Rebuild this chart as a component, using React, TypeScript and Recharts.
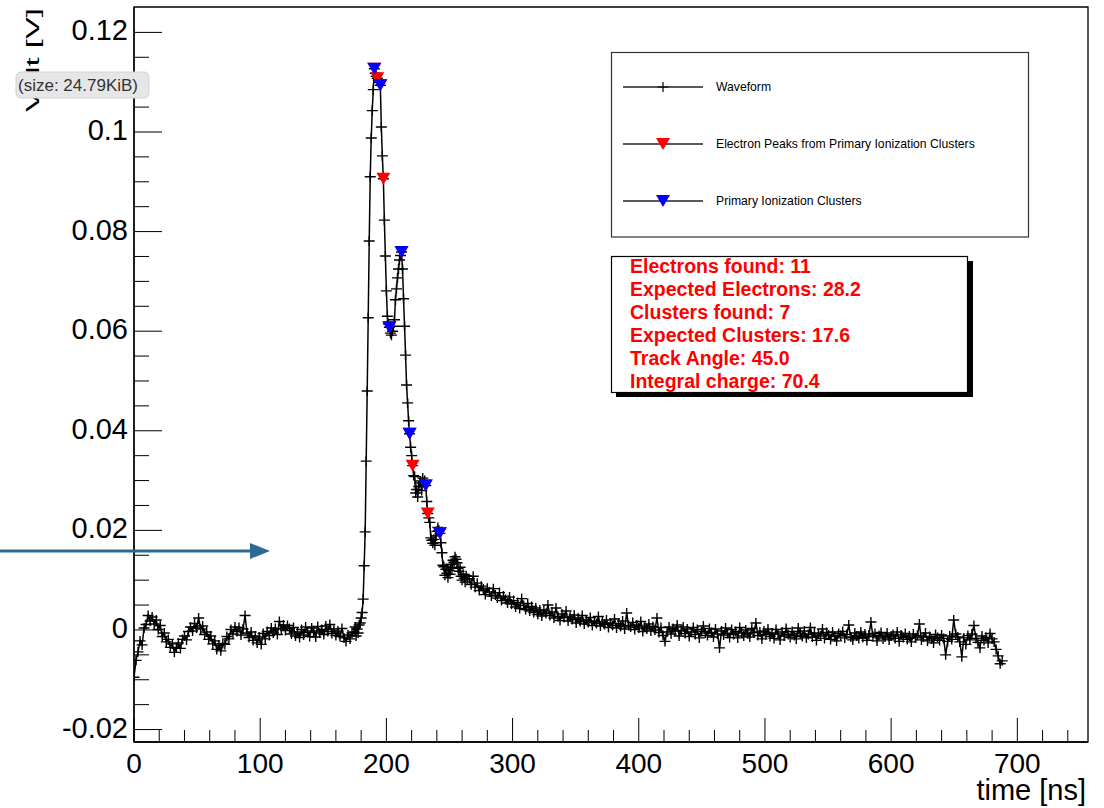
import React from "react";
import { ComposedChart, Line, Scatter, XAxis, YAxis, ReferenceArea } from "recharts";

const W = 1104;
const H = 808;
const FONT = "'Liberation Sans', Arial, Helvetica, sans-serif";

// axis ranges and ticks
const xRange = [0, 756];
const yRange = [-0.0225, 0.1251];
const xTicks = [0, 20, 40, 60, 80, 100, 120, 140, 160, 180, 200, 220, 240, 260, 280, 300, 320, 340, 360, 380,
  400, 420, 440, 460, 480, 500, 520, 540, 560, 580, 600, 620, 640, 660, 680, 700, 720, 740];
const xLabels = [0, 100, 200, 300, 400, 500, 600, 700];
const yTicks = [-0.02, -0.015, -0.01, -0.005, 0, 0.005, 0.01, 0.015, 0.02, 0.025, 0.03, 0.035, 0.04, 0.045,
  0.05, 0.055, 0.06, 0.065, 0.07, 0.075, 0.08, 0.085, 0.09, 0.095, 0.1, 0.105, 0.11, 0.115, 0.12];
const yLabels = [-0.02, 0, 0.02, 0.04, 0.06, 0.08, 0.1, 0.12];

// waveform, in mV. each segment: start time + sampling step in ns
const baseStart = 0;
const baseStep = 1.6;
const baseMv = [
  -9.5, -6.1, -4.4, -2.2, -3.0, 0.4, 1.1, 2.9, 1.8, 2.6,
  1.2, 2.0, 0.1, 0.9, -1.3, -0.6, -2.4, -1.9, -3.5, -2.8,
  -4.5, -3.6, -2.6, -3.7, -1.9, -1.2, -2.0, -0.3, 0.6, -0.2,
  1.3, 0.4, 2.4, 0.2, 0.8, -0.9, -0.4, -1.9, -1.2, -2.8,
  -2.2, -3.9, -3.1, -4.2, -2.7, -2.9, -1.3, -1.8, 0.1, -0.8,
  0.6, -0.3, 0.5, -1.0, 0.2, 2.9, -0.6, -1.5, -0.4, -2.1,
  -1.2, -2.6, -1.4, -2.9, -0.7, -1.8, -0.3, -1.1, 0.4, -0.6,
  0.3, -0.9, 1.7, 0.2, 1.0, -0.1, 0.9, 0.3, -0.8, 0.5,
  -1.2, -0.4, -1.5, 0.1, -1.0, 0.6, -0.5, -1.3, 0.4, -0.2,
  -1.4, 0.7, -0.6, 0.1, -0.9, 0.8, -0.3, 1.1, -0.7, 0.2,
  -1.1, -0.2, -1.3, 0.3, -1.6, -2.3, -1.0, -1.8, -0.6,
];

const peakStart = 174.4;
const peakStep = 0.8;
const peakMv = [
  -0.4, 0.6, -1.2, 0.2, -0.6, 1.0, 1.4, 2.4, 3.5, 6.2,
  12.9, 19.7, 33.9, 48.0, 62.7, 78.1, 91.0, 98.8, 104.3, 108.5,
  112.7, 111.8, 111.2, 110.8, 110.5, 110.0, 109.4, 101.0, 95.2, 90.6,
  82.3, 75.1, 68.1, 63.0, 61.5, 60.8, 59.6, 59.2, 60.0, 61.0,
  62.3, 66.3, 68.5, 70.7, 72.5, 74.3, 75.2, 75.9, 72.5, 66.5,
  61.0, 55.2, 49.2, 45.6, 42.0, 39.4, 36.7, 35.0, 33.0, 31.0,
  30.8, 27.5, 28.2, 26.7, 28.8, 29.5, 29.9, 28.0, 30.5, 29.6,
  30.0, 29.0, 25.8, 23.4, 22.5, 21.6, 18.5, 18.0, 17.4, 18.2,
  17.0, 18.9, 19.8, 20.6, 20.0, 19.4, 17.5, 15.5, 13.0, 12.7,
  11.0, 12.2, 11.4, 10.5, 12.0, 11.2, 13.2, 12.5, 14.0, 13.6,
  14.7, 14.2, 13.5, 12.4, 11.8, 12.6, 10.8, 10.0, 11.2, 10.4,
  9.6, 10.9, 10.2,
];

const tailStart = 265.6;
const tailStep = 1.6;
const tailMv = [
  10.3, 9.1, 10.8, 8.6, 9.4, 7.9, 8.8, 8.2, 7.1, 8.4,
  7.6, 6.8, 8.3, 7.0, 6.4, 7.5, 5.9, 6.8, 6.1, 5.4,
  6.6, 5.2, 5.9, 4.6, 5.5, 4.3, 6.3, 4.9, 4.1, 5.3,
  3.8, 4.7, 3.5, 4.4, 3.1, 4.0, 2.8, 3.9, 3.3, 5.0,
  2.9, 3.6, 2.4, 4.4, 2.7, 1.9, 3.2, 2.5, 3.8, 1.8,
  2.6, 2.1, 3.0, 1.4, 2.4, 1.7, 2.9, 1.2, 2.0, 1.5,
  2.5, 0.9, 1.8, 1.3, 2.7, 0.8, 1.6, 1.1, 2.0, 0.5,
  1.4, 0.9, 2.2, 0.4, 1.3, 0.7, 1.8, 0.2, 3.4, 0.9,
  0.6, 1.5, 0.1, 1.0, 0.4, 1.7, -0.3, 0.8, 0.2, 1.2,
  -0.2, 0.7, 0.0, 2.4, -0.5, 0.5, -1.1, -2.3, -0.4, 0.6,
  -0.8, 0.3, -0.2, 1.0, -1.2, -0.1, 0.6, -0.7, 0.2, -1.3,
  -0.4, 0.5, -0.9, 0.1, -1.6, -0.3, 0.8, -0.6, -1.1, 0.3,
  -0.5, -1.4, 0.2, -0.8, -3.6, -0.2, -1.0, 0.4, -0.7, -1.5,
  0.1, -0.9, -0.3, -1.6, 0.5, -0.6, -1.2, 0.0, -0.8, -1.4,
  0.3, -0.5, 1.4, -1.1, -0.4, -1.8, -0.2, -0.9, 0.2, -1.3,
  -0.6, -1.7, 0.1, -0.8, -2.0, -0.4, -1.2, 0.3, -0.9, -1.5,
  -0.3, -1.1, -1.8, 0.4, -0.7, -1.3, -0.2, -1.6, -0.9, 0.5,
  -1.4, -0.6, -2.1, -0.8, -1.2, 0.2, -1.7, -0.5, -1.0, -1.9,
  -0.4, -1.3, -2.2, -0.7, -1.1, -0.3, -1.6, -0.9, 1.0, -1.4,
  -2.0, -0.6, -1.2, -1.7, -0.4, -1.5, -0.8, -2.1, -1.0, 1.6,
  -1.3, -0.7, -2.2, -1.1, -0.5, -1.8, -1.4, -0.6, -2.0, -1.2,
  -0.9, -1.7, -0.4, -2.3, -1.0, -1.5, -0.7, -1.9, -1.2, -2.4,
  -0.8, -1.6, -1.1, 1.2, -2.0, -1.4, -0.6, -2.2, -1.3, -1.8,
  -2.6, -0.9, -1.5, -2.1, -1.0, -1.7, -5.0, -2.3, -1.2, -1.9,
  2.0, -0.8, -1.4, -2.4, -5.4, -1.6, -2.9, -1.1, -2.0, -0.8,
  0.9, -1.7, -2.5, -3.6, -1.2, -2.1, -1.5, -2.6, -0.7, -1.8,
  -2.4, -3.9, -5.2, -6.8, -6.2,
];

// found peaks, as sample indices into peakMv
const clusterIdx = [20, 26, 35, 47, 55, 71, 85];
const electronIdx = [20, 23, 26, 29, 35, 47, 55, 58, 71, 73, 85];

const legendLabels = ["Waveform", "Electron Peaks from Primary Ionization Clusters", "Primary Ionization Clusters"];
const statLines = [
  "Electrons found: 11",
  "Expected Electrons: 28.2",
  "Clusters found: 7",
  "Expected Clusters: 17.6",
  "Track Angle: 45.0",
  "Integral charge: 70.4",
];

const seg = (start: number, step: number, mv: number[]) =>
  mv.map((m, i) => ({ t: +(start + i * step).toFixed(2), v: m / 1000 }));

const peak = seg(peakStart, peakStep, peakMv);
const wave = [...seg(baseStart, baseStep, baseMv), ...peak, ...seg(tailStart, tailStep, tailMv)];
const clusters = clusterIdx.map((i) => peak[i]);
const electrons = electronIdx.map((i) => peak[i]);

const near = (arr: number[], v: number) => arr.some((a) => Math.abs(a - v) < 1e-7);
const fmtY = (v: number) => (Math.abs(v) < 1e-9 ? "0" : String(Number(v.toFixed(3))));

const crossPath = (cx: number, cy: number) => `M${cx - 5.5},${cy}H${cx + 5.5}M${cx},${cy - 5}V${cy + 5}`;
const triPoints = (cx: number, cy: number) => `${cx - 7},${cy - 6} ${cx + 7},${cy - 6} ${cx},${cy + 6}`;

function XTick(props: any) {
  const { x, y, payload } = props;
  const major = near(xLabels, payload.value);
  return (
    <g>
      <line x1={x} x2={x} y1={y} y2={y - (major ? 24 : 12)} stroke="#000" strokeWidth={1} />
      {major && (
        <text x={x} y={y + 21} textAnchor="middle" dominantBaseline="central" fontSize={28} fontFamily={FONT} fill="#000">
          {payload.value}
        </text>
      )}
    </g>
  );
}

function YTick(props: any) {
  const { x, y, payload } = props;
  const major = near(yLabels, payload.value);
  return (
    <g>
      <line x1={x} x2={x + (major ? 28 : 15)} y1={y} y2={y} stroke="#000" strokeWidth={1} />
      {major && (
        <text x={x - 6} y={y - 2} textAnchor="end" dominantBaseline="central" fontSize={29} fontFamily={FONT} fill="#000">
          {fmtY(payload.value)}
        </text>
      )}
    </g>
  );
}

const renderCross = (p: any) => {
  if (p.cx == null || p.cy == null) return <g key={`c${p.index}`} />;
  return <path key={`c${p.index}`} d={crossPath(p.cx, p.cy)} stroke="#000" strokeWidth={1.4} fill="none" />;
};

const triShape = (color: string) => (p: any) => <polygon points={triPoints(p.cx, p.cy)} fill={color} />;

export default function App() {
  return (
    <div style={{ position: "absolute", left: 0, top: 0, width: W, height: H, background: "#fff" }}>
      <ComposedChart width={W} height={H} margin={{ top: 7, right: 16, bottom: 0, left: 0 }}>
        <XAxis
          type="number"
          dataKey="t"
          domain={xRange}
          ticks={xTicks}
          interval={0}
          allowDataOverflow
          tickLine={false}
          tickSize={0}
          tickMargin={0}
          height={66}
          axisLine={{ stroke: "#000", strokeWidth: 1.3 }}
          tick={<XTick />}
        />
        <YAxis
          type="number"
          dataKey="v"
          domain={yRange}
          ticks={yTicks}
          interval={0}
          allowDataOverflow
          tickLine={false}
          tickSize={0}
          tickMargin={0}
          width={134}
          axisLine={{ stroke: "#000", strokeWidth: 1.3 }}
          tick={<YTick />}
        />
        <ReferenceArea x1={xRange[0]} x2={xRange[1]} y1={yRange[0]} y2={yRange[1]} fill="none" stroke="#000" strokeWidth={1.3} ifOverflow="visible" />
        <Line
          data={wave}
          dataKey="v"
          type="linear"
          stroke="#000"
          strokeWidth={1.5}
          dot={renderCross}
          activeDot={false}
          isAnimationActive={false}
        />
        <Scatter data={electrons} dataKey="v" shape={triShape("#ff0000")} isAnimationActive={false} />
        <Scatter data={clusters} dataKey="v" shape={triShape("#0000ff")} isAnimationActive={false} />
      </ComposedChart>

      <svg width={W} height={H} style={{ position: "absolute", left: 0, top: 0, pointerEvents: "none" }}>
        {/* axis titles */}
        <text x={1086} y={800} textAnchor="end" fontSize={29} fontFamily={FONT} fill="#000">time [ns]</text>
        <text
          transform="translate(39,8) rotate(-90)"
          textAnchor="end"
          fontSize={18}
          textLength={104}
          lengthAdjust="spacingAndGlyphs"
          fontFamily={FONT}
          fill="#000"
        >
          Volt [V]
        </text>

        {/* legend */}
        <rect x={611.5} y={52.5} width={417} height={184.5} fill="#fff" stroke="#333" strokeWidth={1.2} />
        {legendLabels.map((label, i) => {
          const cy = 87 + i * 57;
          return (
            <g key={label}>
              <line x1={623} x2={703} y1={cy} y2={cy} stroke="#222" strokeWidth={1.3} />
              {i === 0 && <path d={crossPath(663, cy)} stroke="#000" strokeWidth={1.2} fill="none" />}
              {i === 1 && <polygon points={triPoints(663, cy)} fill="#ff0000" />}
              {i === 2 && <polygon points={triPoints(663, cy)} fill="#0000ff" />}
              <text x={716} y={cy} dominantBaseline="central" fontSize={12.2} fontFamily={FONT} fill="#000">{label}</text>
            </g>
          );
        })}

        {/* stats box */}
        <rect x={616} y={261} width={357} height={136} fill="#000" />
        <rect x={611.5} y={256.5} width={356} height={136} fill="#fff" stroke="#000" strokeWidth={1.2} />
        {statLines.map((s, i) => (
          <text key={s} x={630} y={265.5 + i * 23.1} dominantBaseline="central" fontSize={19.5} fontWeight="bold" fontFamily={FONT} fill="#ff0000">
            {s}
          </text>
        ))}

        {/* screenshot overlays */}
        <rect x={16} y={72} width={133} height={26} rx={5} fill="#e6e6e6" stroke="#d2d2d2" />
        <text x={18} y={85} dominantBaseline="central" fontSize={17} fontFamily={FONT} fill="#333">(size: 24.79KiB)</text>
        <line x1={0} x2={254} y1={551} y2={551} stroke="#2b6a92" strokeWidth={3} />
        <polygon points="250,543 270,551 250,559" fill="#2b6a92" />
      </svg>
    </div>
  );
}
